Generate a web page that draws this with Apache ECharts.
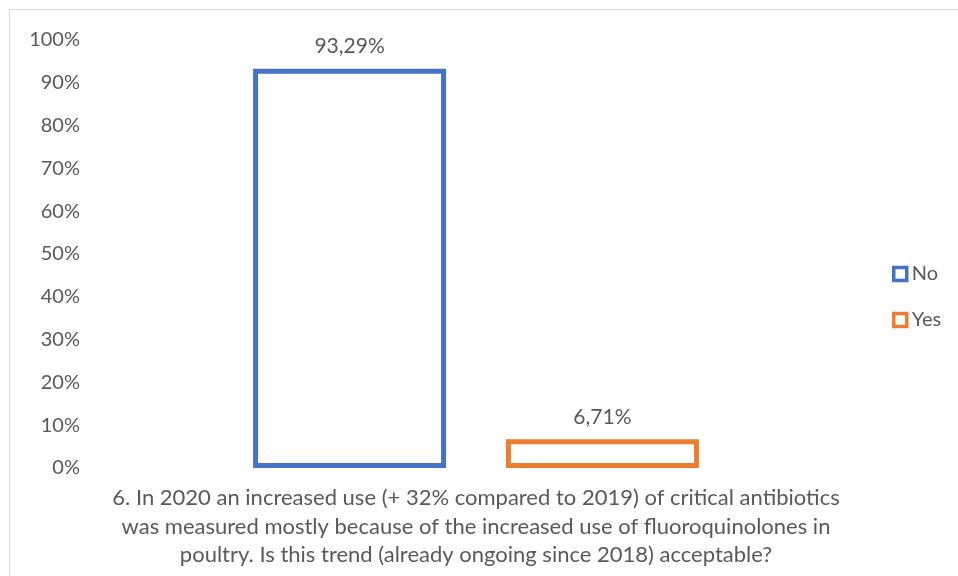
<!DOCTYPE html>
<html>
<head>
<meta charset="utf-8">
<script src="https://cdn.jsdelivr.net/npm/echarts@6/dist/echarts.min.js"></script>
<style>
  html, body { margin: 0; padding: 0; background: #fff; }
  #frame { position: absolute; left: 9px; top: 9px; width: 960px; height: 580px; border: 1px solid #d9d9d9; box-sizing: border-box; }
  #main { position: absolute; left: 0; top: 0; width: 958px; height: 576px; }
</style>
</head>
<body>
<div id="frame"></div>
<div id="main"></div>
<script>
// data
const categories = ['6. In 2020 an increased use (+ 32% compared to 2019) of critical antibiotics\nwas measured mostly because of the increased use of fluoroquinolones in\npoultry. Is this trend (already ongoing since 2018) acceptable?'];
const seriesNames = ['No', 'Yes'];
const noValues = [93.29];
const yesValues = [6.71];
const colors = ['#4472C4', '#ED7D31'];

const font = 'Lato, "Open Sans", sans-serif';
const gray = '#595959';

const makeSeries = (name, data, color) => ({
  name: name,
  type: 'bar',
  data: data,
  barWidth: 193,
  barGap: '31%',
  itemStyle: {
    color: '#fff',
    borderColor: color,
    borderWidth: 5
  },
  label: {
    show: true,
    position: 'top',
    distance: 12,
    color: gray,
    fontFamily: font,
    fontSize: 21,
    formatter: (p) => p.value.toFixed(2).replace('.', ',') + '%'
  }
});

var myChart = echarts.init(document.getElementById('main'));
var option = {
  animation: false,
  legend: {
    orient: 'vertical',
    left: 887,
    top: 259,
    itemGap: 26,
    itemWidth: 13,
    itemHeight: 13,
    itemStyle: { borderWidth: 3.5 },
    textStyle: { color: gray, fontFamily: font, fontSize: 20 },
    data: [
      { name: seriesNames[0], icon: 'rect' },
      { name: seriesNames[1], icon: 'rect' }
    ]
  },
  grid: {
    left: 90,
    top: 40,
    width: 772,
    bottom: 108
  },
  xAxis: [{
    type: 'category',
    data: categories,
    axisLine: { show: false },
    axisTick: { show: false },
    axisLabel: {
      color: gray,
      fontFamily: font,
      fontSize: 22,
      lineHeight: 28.5,
      margin: 16,
      interval: 0
    }
  }],
  yAxis: [{
    type: 'value',
    min: 0,
    max: 100,
    interval: 10,
    axisLine: { show: false },
    axisTick: { show: false },
    splitLine: { show: false },
    axisLabel: {
      color: gray,
      fontFamily: font,
      fontSize: 20,
      margin: 10,
      formatter: '{value}%'
    }
  }],
  series: [
    makeSeries(seriesNames[0], noValues, colors[0]),
    makeSeries(seriesNames[1], yesValues, colors[1])
  ]
};
myChart.setOption(option);
</script>
</body>
</html>
